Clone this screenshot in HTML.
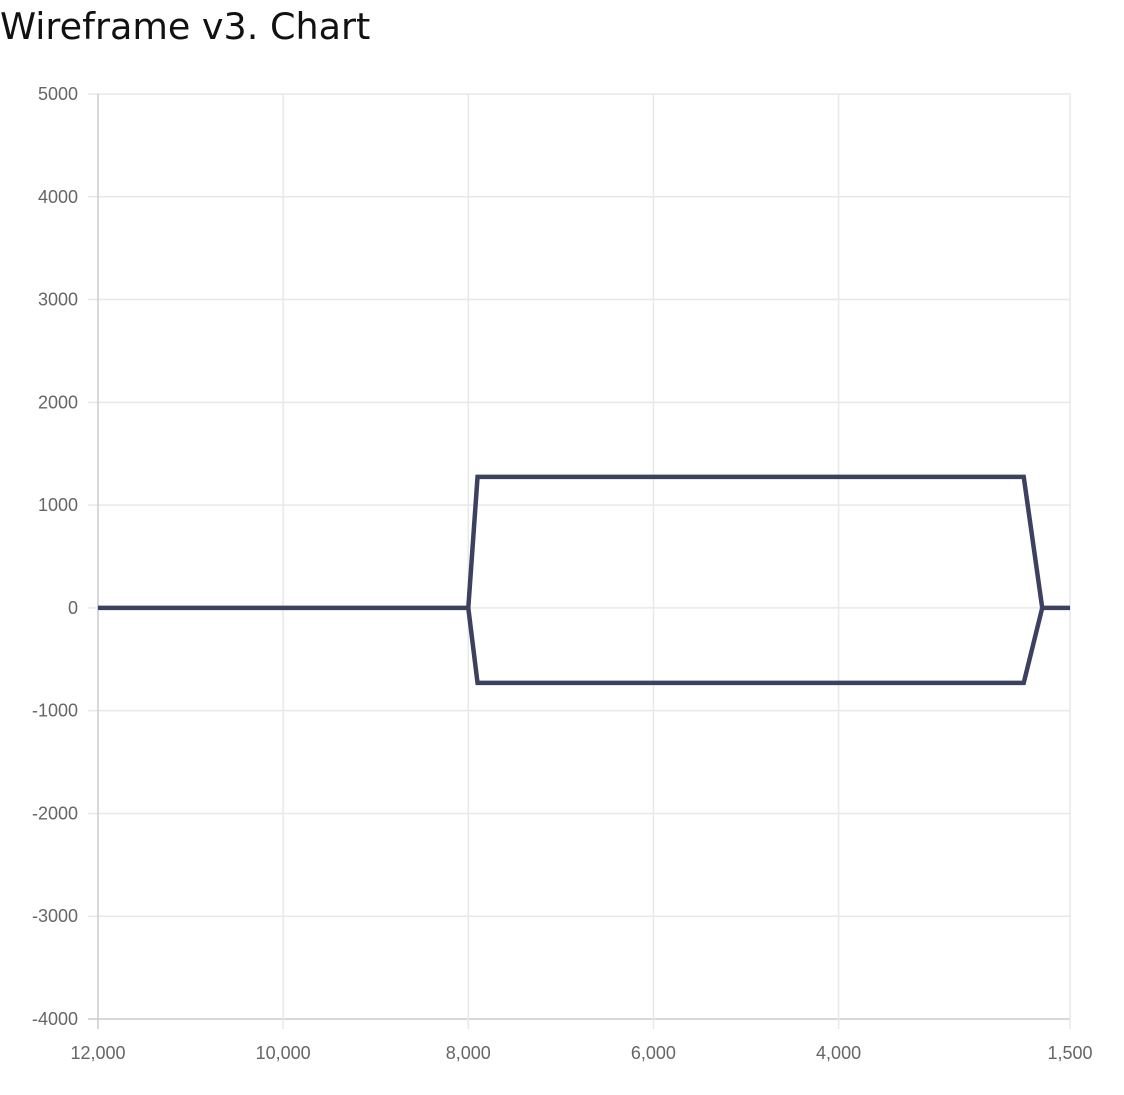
<!DOCTYPE html>
<html><head><meta charset="utf-8">
<style>
html,body{margin:0;padding:0;background:#fff;width:1124px;height:1095px;overflow:hidden}
#title{position:absolute;left:0;top:5px;font:36.5px "DejaVu Sans",sans-serif;color:#111}
svg{position:absolute;left:0;top:0}
text{font-family:"Liberation Sans",sans-serif;font-size:18px;fill:#666}
</style></head>
<body>
<div id="title">Wireframe v3. Chart</div>
<svg id="chart" width="1124" height="1095"></svg>
<script>
const xTicks=[12000,10000,8000,6000,4000,1500];
const xTickLabels=["12,000","10,000","8,000","6,000","4,000","1,500"];
const yTicks=[5000,4000,3000,2000,1000,0,-1000,-2000,-3000,-4000];
const upperX=[12000,8000,7900,2000,1800,1500];
const upperY=[0,0,1275,1275,0,0];
const lowerX=[8000,7900,2000,1800];
const lowerY=[0,-730,-730,0];

const L=98,R=1070,T=94,B=1019;
const xMin=12000,xMax=1500,yMin=-4000,yMax=5000;
const sx=v=>L+(xMin-v)/(xMin-xMax)*(R-L);
const sy=v=>B-(v-yMin)/(yMax-yMin)*(B-T);
const svg=document.getElementById('chart');
const NS='http://www.w3.org/2000/svg';
function mk(tag,attrs){const e=document.createElementNS(NS,tag);for(const k in attrs)e.setAttribute(k,attrs[k]);svg.appendChild(e);return e;}

yTicks.forEach(v=>{
  const y=sy(v);
  const g=mk('line',{x1:L-10,x2:R,y1:y,y2:y,stroke:v===yMin?'#ccc':'#e8e8e8','stroke-width':1.5});
  
  
  const t=mk('text',{x:L-20,y:y+6,'text-anchor':'end'});
  t.textContent=v;
  
  
});
xTicks.forEach((v,i)=>{
  const x=sx(v);
  const g=mk('line',{x1:x,x2:x,y1:T,y2:B+10,stroke:i===0?'#ccc':'#e8e8e8','stroke-width':1.5});
  
  
  const t=mk('text',{x:x,y:B+40,'text-anchor':'middle'});
  t.textContent=xTickLabels[i];
  
  
});
function series(xs,ys,name){
  const p=mk('polyline',{points:xs.map((x,i)=>sx(x)+','+sy(ys[i])).join(' '),fill:'none',stroke:'#3d4160','stroke-width':4.5,'stroke-linejoin':'miter'});
  
  
}
series(upperX,upperY,'upper-series-line');
series(lowerX,lowerY,'lower-series-line');
</script>
</body></html>
